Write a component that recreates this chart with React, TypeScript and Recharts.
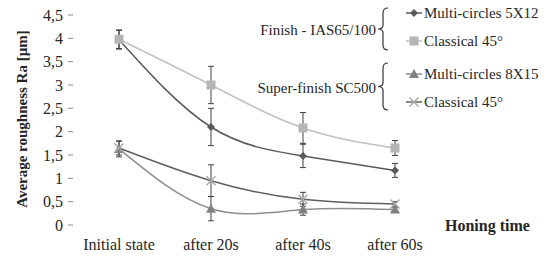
import { LineChart, Line, XAxis, YAxis, ErrorBar } from 'recharts'

const categories = ['Initial state', 'after 20s', 'after 40s', 'after 60s']
const yTicks = [0, 0.5, 1, 1.5, 2, 2.5, 3, 3.5, 4, 4.5]

// Finish - IAS65/100
const mc5x12 = [3.97, 2.1, 1.48, 1.17]
const mc5x12Err = [0.2, 0.4, 0.25, 0.15]
const cl45Finish = [3.98, 3.0, 2.08, 1.65]
const cl45FinishErr = [0.2, 0.4, 0.33, 0.16]

// Super-finish SC500
const mc8x15 = [1.63, 0.35, 0.33, 0.33]
const mc8x15Err = [0.17, 0.26, 0.12, 0.05]
const cl45Super = [1.65, 0.95, 0.55, 0.45]
const cl45SuperErr = [0.15, 0.34, 0.15, 0.05]

const groups = ['Finish - IAS65/100', 'Super-finish SC500']

type Kind = 'diamond' | 'square' | 'triangle' | 'cross'

const series: { key: string; name: string; group: number; kind: Kind; line: string; marker: string }[] = [
  { key: 'mc5x12', name: 'Multi-circles 5X12', group: 0, kind: 'diamond', line: '#595959', marker: '#595959' },
  { key: 'cl45Finish', name: 'Classical 45°', group: 0, kind: 'square', line: '#c0c0c0', marker: '#b5b5b5' },
  { key: 'mc8x15', name: 'Multi-circles 8X15', group: 1, kind: 'triangle', line: '#8e8e8e', marker: '#808080' },
  { key: 'cl45Super', name: 'Classical 45°', group: 1, kind: 'cross', line: '#5f5f5f', marker: '#a8a8a8' },
]

const data = categories.map((name, i) => ({
  idx: i,
  name,
  mc5x12: mc5x12[i],
  mc5x12Err: mc5x12Err[i],
  cl45Finish: cl45Finish[i],
  cl45FinishErr: cl45FinishErr[i],
  mc8x15: mc8x15[i],
  mc8x15Err: mc8x15Err[i],
  cl45Super: cl45Super[i],
  cl45SuperErr: cl45SuperErr[i],
}))

const FONT = '"Liberation Serif", "DejaVu Serif", serif'
const TEXT = '#262626'

function Marker({ cx, cy, kind, color }: { cx: number; cy: number; kind: Kind; color: string }) {
  if (cx == null || cy == null) return null
  if (kind === 'diamond') {
    const r = 4
    return <path d={`M${cx},${cy - r}L${cx + r},${cy}L${cx},${cy + r}L${cx - r},${cy}Z`} fill={color} />
  }
  if (kind === 'square') {
    const r = 4.5
    return <rect x={cx - r} y={cy - r} width={r * 2} height={r * 2} fill={color} />
  }
  if (kind === 'triangle') {
    const r = 5
    return <path d={`M${cx},${cy - r}L${cx + r},${cy + r * 0.8}L${cx - r},${cy + r * 0.8}Z`} fill={color} />
  }
  const r = 4.5
  return (
    <g stroke={color} strokeWidth={1.4}>
      <line x1={cx - r} y1={cy - r} x2={cx + r} y2={cy + r} />
      <line x1={cx - r} y1={cy + r} x2={cx + r} y2={cy - r} />
    </g>
  )
}

function Brace({ x, y1, y2 }: { x: number; y1: number; y2: number }) {
  const mid = (y1 + y2) / 2
  const d = `M${x + 7},${y1} Q${x + 2},${y1} ${x + 2},${y1 + 5} L${x + 2},${mid - 4} Q${x + 2},${mid} ${x - 3},${mid} Q${x + 2},${mid} ${x + 2},${mid + 4} L${x + 2},${y2 - 5} Q${x + 2},${y2} ${x + 7},${y2}`
  return <path d={d} fill="none" stroke="#333" strokeWidth={1.2} />
}

function LegendOverlay() {
  const groupY = [[8, 50], [63, 110]]
  const itemY = [13, 41, 74, 102]
  return (
    <svg width={547} height={260} style={{ position: 'absolute', left: 0, top: 0, pointerEvents: 'none' }}>
      {groups.map((g, gi) => {
        const [y1, y2] = groupY[gi]
        return (
          <g key={g}>
            <text x={376} y={(y1 + y2) / 2 + 6} textAnchor="end" fontFamily={FONT} fontSize={15} fill={TEXT}>{g}</text>
            <Brace x={381} y1={y1} y2={y2} />
          </g>
        )
      })}
      {series.map((s, i) => (
        <g key={s.key}>
          <line x1={406} x2={422} y1={itemY[i]} y2={itemY[i]} stroke={s.line} strokeWidth={1.5} />
          <Marker cx={414} cy={itemY[i]} kind={s.kind} color={s.marker} />
          <text x={424} y={itemY[i] + 5} fontFamily={FONT} fontSize={15} fill={TEXT}>{s.name}</text>
        </g>
      ))}
      <text x={445} y={231} fontFamily={FONT} fontSize={16} fontWeight="bold" fill={TEXT}>Honing time</text>
      <text x={27} y={119} transform="rotate(-90 27 119)" textAnchor="middle" fontFamily={FONT} fontSize={15} fontWeight="bold" fill={TEXT}>Average roughness Ra [µm]</text>
    </svg>
  )
}

export default function App() {
  const tick = { fontFamily: FONT, fontSize: 16, fill: TEXT }
  return (
    <div style={{ position: 'absolute', left: 0, top: 0, width: 547, height: 260, background: '#fff' }}>
      <LineChart width={547} height={260} data={data} margin={{ top: 15, right: 106, bottom: 5, left: 13 }}>
        <XAxis
          xAxisId="bound"
          dataKey="idx"
          type="number"
          domain={[-0.5, 3.5]}
          ticks={[-0.5, 0.5, 1.5, 2.5, 3.5]}
          tick={false}
          tickSize={5}
          height={0}
          stroke="#8c8c8c"
        />
        <XAxis
          xAxisId="lab"
          dataKey="idx"
          type="number"
          domain={[-0.5, 3.5]}
          ticks={[0, 1, 2, 3]}
          tickFormatter={(v: number) => categories[v] ?? ''}
          axisLine={false}
          tickLine={false}
          tickMargin={8}
          height={30}
          tick={tick}
          interval={0}
        />
        <YAxis
          domain={[0, 4.5]}
          ticks={yTicks}
          tickFormatter={(v: number) => String(v).replace('.', ',')}
          axisLine={false}
          tickSize={5}
          tickMargin={5}
          width={60}
          tick={tick}
          stroke="#8c8c8c"
          interval={0}
        />
        {series.map(s => (
          <Line
            key={s.key}
            xAxisId="bound"
            type="natural"
            dataKey={s.key}
            name={s.name}
            stroke={s.line}
            strokeWidth={1.5}
            isAnimationActive={false}
            dot={(p: any) => <Marker key={`${s.key}-${p.index}`} cx={p.cx} cy={p.cy} kind={s.kind} color={s.marker} />}
            activeDot={false}
          >
            <ErrorBar dataKey={`${s.key}Err`} direction="y" width={3} stroke="#404040" strokeWidth={1} />
          </Line>
        ))}
      </LineChart>
      <LegendOverlay />
    </div>
  )
}
